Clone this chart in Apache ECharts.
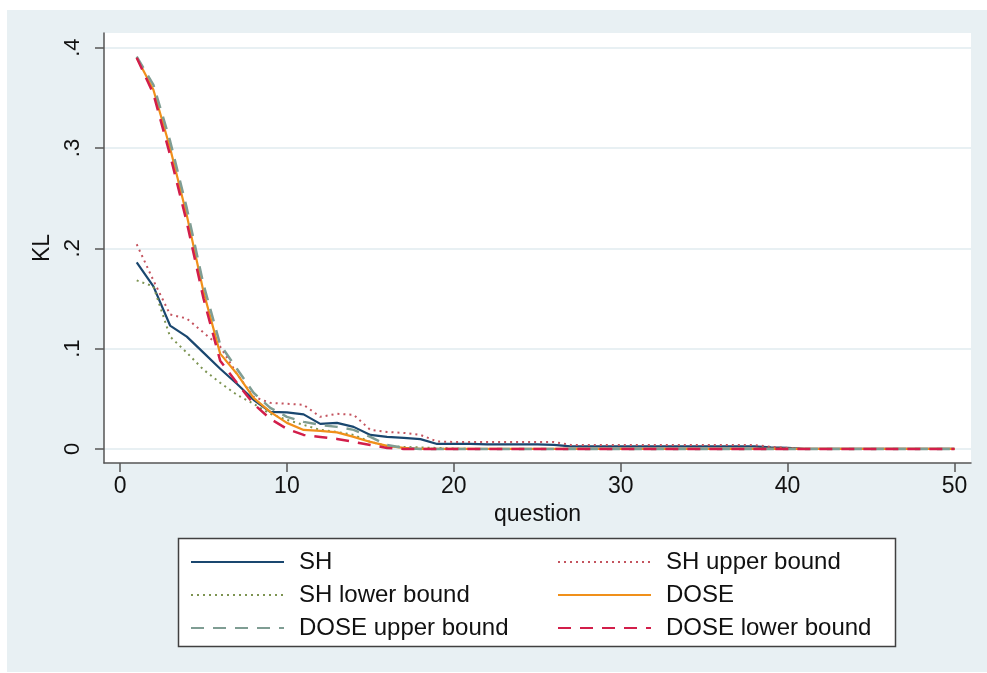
<!DOCTYPE html>
<html><head><meta charset="utf-8">
<script src="https://cdn.jsdelivr.net/npm/echarts@6/dist/echarts.min.js"></script>
<style>
html,body{margin:0;padding:0;background:#fff;}
#bg{position:absolute;left:7px;top:10px;width:980px;height:662px;background:#e8f0f3;}
#chart{position:absolute;left:0;top:0;width:987px;height:673px;}
</style></head>
<body>
<div id="bg"></div>
<div id="chart"></div>
<script>
const questions = Array.from({length:50},(_,i)=>i+1);
const xTicks = [0,10,20,30,40,50];
const yTicks = [0,0.1,0.2,0.3,0.4];
const yTickLabels = ['0','.1','.2','.3','.4'];
const seriesNames = ['SH','SH upper bound','SH lower bound','DOSE','DOSE upper bound','DOSE lower bound'];

const SH = [0.186,0.162,0.123,0.112,0.096,0.080,0.065,0.049,0.037,0.0365,
            0.0345,0.025,0.026,0.022,0.014,0.012,0.011,0.0098,0.005,0.005,
            0.005,0.0045,0.0045,0.0045,0.0045,0.004,0.0025,0.0025,0.0025,0.0025,
            0.0025,0.0025,0.0025,0.0025,0.0025,0.0025,0.0025,0.0025,0.0015,0.001,
            0,0,0,0,0,0,0,0,0,0];
const SHupper = [0.204,0.168,0.134,0.130,0.116,0.102,0.075,0.052,0.046,0.045,
                 0.044,0.032,0.035,0.034,0.019,0.017,0.016,0.014,0.0075,0.007,
                 0.007,0.007,0.007,0.007,0.007,0.007,0.004,0.004,0.004,0.004,
                 0.004,0.004,0.004,0.004,0.004,0.004,0.004,0.004,0.002,0.001,
                 0,0,0,0,0,0,0,0,0,0];
const SHlower = [0.168,0.162,0.112,0.096,0.079,0.066,0.054,0.045,0.035,0.029,
                 0.024,0.019,0.017,0.014,0.007,0.003,0.002,0.0015,0.001,0.0005,
                 0,0,0,0,0,0,0,0,0,0,
                 0,0,0,0,0,0,0,0,0,0,
                 0,0,0,0,0,0,0,0,0,0];
const DOSE = [0.390,0.358,0.300,0.233,0.157,0.095,0.075,0.051,0.037,0.026,
              0.019,0.018,0.0165,0.012,0.007,0.003,0.001,0,0,0,
              0,0,0,0,0,0,0,0,0,0,
              0,0,0,0,0,0,0,0,0,0,
              0,0,0,0,0,0,0,0,0,0];
const DOSEupper = [0.391,0.363,0.307,0.240,0.164,0.104,0.080,0.056,0.041,0.032,
                   0.027,0.024,0.022,0.019,0.012,0.004,0.001,0,0,0,
                   0,0,0,0,0,0,0,0,0,0,
                   0,0,0,0,0,0,0,0,0,0,
                   0,0,0,0,0,0,0,0,0,0];
const DOSElower = [0.390,0.354,0.293,0.226,0.150,0.088,0.066,0.045,0.030,0.020,
                   0.014,0.012,0.010,0.007,0.004,0.001,0,0,0,0,
                   0,0,0,0,0,0,0,0,0,0,
                   0,0,0,0,0,0,0,0,0,0,
                   0,0,0,0,0,0,0,0,0,0];

const FONT = "'Liberation Sans', Arial, Helvetica, sans-serif";
const values = [SH,SHupper,SHlower,DOSE,DOSEupper,DOSElower];
const colors = ['#1a476f','#c4545f','#7d9452','#f0901a','#7f9d93','#d21e4a'];
const types = ['solid',[2,4],[2,4],'solid',[13,9],[13,9]];
const widths = [2.2,2,2,2.2,2.5,2.5];

const series = values.map((vals,k)=>({
  name: seriesNames[k],
  type:'line',
  data: questions.map((q,i)=>[q,vals[i]]),
  symbol:'none',
  showSymbol:false,
  animation:false,
  color: colors[k],
  lineStyle:{color:colors[k],width:widths[k],type:types[k]},
  z: 2+k
}));

const legendCommon = {
  orient:'vertical', top:550, padding:0, itemGap:9, itemWidth:93, itemHeight:14, z:10,
  itemStyle:{color:'transparent',borderColor:'transparent',borderWidth:0,opacity:0},
  textStyle:{fontFamily:FONT,fontSize:24,color:'#111',lineHeight:22,padding:[0,0,0,10]}
};

const chart = echarts.init(document.getElementById('chart'),null,{renderer:'canvas'});
chart.setOption({
  animation:false,
  backgroundColor:'transparent',
  grid:{left:104,top:33,width:867,height:430,show:true,backgroundColor:'#ffffff',borderWidth:0},
  xAxis:{
    type:'value', min:-0.96, max:50.99,
    name:'question', nameLocation:'middle', nameGap:40,
    nameTextStyle:{fontFamily:FONT,fontSize:23,color:'#111'},
    axisLine:{show:true,onZero:false,lineStyle:{color:'#555',width:1.5}},
    axisTick:{show:true,length:9,customValues:xTicks,lineStyle:{color:'#555',width:1.5}},
    axisLabel:{customValues:xTicks,margin:12,fontFamily:FONT,fontSize:23,color:'#111'},
    splitLine:{show:false}
  },
  yAxis:{
    type:'value', min:-0.014, max:0.4146,
    name:'KL', nameLocation:'middle', nameGap:46, nameRotate:90,
    nameTextStyle:{fontFamily:FONT,fontSize:23,color:'#111'},
    axisLine:{show:true,onZero:false,lineStyle:{color:'#555',width:1.5}},
    axisTick:{show:true,length:9,customValues:yTicks,lineStyle:{color:'#555',width:1.5}},
    axisLabel:{customValues:yTicks,rotate:90,margin:20,fontFamily:FONT,fontSize:22,color:'#111',
      formatter:function(v){for(let i=0;i<yTicks.length;i++){if(Math.abs(yTicks[i]-v)<1e-9)return yTickLabels[i];}return '';}},
    splitLine:{show:true,lineStyle:{color:'#e8f0f3',width:2}}
  },
  legend:[
    Object.assign({},legendCommon,{left:190,data:[seriesNames[0],seriesNames[2],seriesNames[4]]}),
    Object.assign({},legendCommon,{left:557,data:[seriesNames[1],seriesNames[3],seriesNames[5]]})
  ],
  graphic:[{type:'rect',z:1,shape:{x:178.5,y:538.5,width:717,height:108},
    style:{fill:'#ffffff',stroke:'#404040',lineWidth:1.5}}],
  series: series
});
</script>
</body></html>
